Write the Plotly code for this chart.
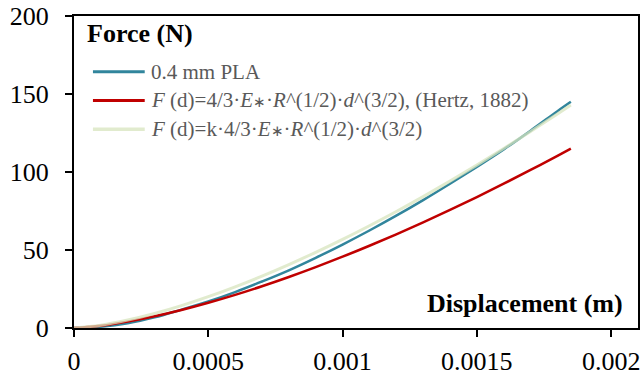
import plotly.graph_objects as go

# displacement (m)
disp = [0, 0.0001, 0.0002, 0.0003, 0.0004, 0.0005, 0.0006, 0.0007, 0.0008, 0.0009,
        0.0010, 0.0011, 0.0012, 0.0013, 0.0014, 0.0015, 0.0016, 0.0017, 0.0018, 0.00185]
# Force (N)
pla = [0, 0.8, 3.0, 6.8, 11.8, 17.0, 23.0, 29.8, 37.0, 45.0,
       53.5, 62.5, 72.0, 82.0, 92.5, 103.3, 114.5, 126.5, 139.0, 145.0]
hertz = [0, 1.45, 4.09, 7.51, 11.56, 16.16, 21.24, 26.77, 32.70, 39.02,
         45.70, 52.73, 60.08, 67.74, 75.71, 83.96, 92.50, 101.30, 110.37, 115.0]
hertz_k = [0, 1.80, 5.09, 9.34, 14.37, 20.10, 26.41, 33.29, 40.66, 48.52,
           56.83, 65.57, 74.71, 84.24, 94.15, 104.40, 115.02, 125.97, 137.24, 143.0]

STAR = '<span style="font-size:15px">∗</span>'
names = ["0.4 mm PLA",
         "<i>F</i> (d)=4/3·<i>E</i>" + STAR + "·<i>R</i>^(1/2)·<i>d</i>^(3/2), (Hertz, 1882)",
         "<i>F</i> (d)=k·4/3·<i>E</i>" + STAR + "·<i>R</i>^(1/2)·<i>d</i>^(3/2)"]
colors = ["#31859C", "#C00000", "rgba(215,228,189,0.75)"]
widths = [2.5, 2.5, 3]
series = [pla, hertz, hertz_k]

FONT = "Liberation Serif"

fig = go.Figure()
for s, n, c, w in zip(series, names, colors, widths):
    fig.add_trace(go.Scatter(x=disp, y=s, mode="lines", name=n,
                             line=dict(color=c, width=w, shape="spline"),
                             showlegend=False, hoverinfo="skip"))

# manual legend
rows_y = [0.8217, 0.7293, 0.6369]
for n, c, w, yy in zip(names, colors, widths, rows_y):
    fig.add_shape(type="line", xref="paper", yref="paper",
                  x0=0.0336, x1=0.1254, y0=yy, y1=yy,
                  line=dict(color=c, width=w + 0.5))
    fig.add_annotation(xref="paper", yref="paper", x=0.1325, y=yy,
                       xanchor="left", yanchor="middle", showarrow=False,
                       text=n, font=dict(family=FONT, size=21, color="#595959"))

fig.add_annotation(xref="paper", yref="paper", x=0.019, y=0.945,
                   xanchor="left", yanchor="middle", showarrow=False,
                   text="<b>Force (N)</b>", font=dict(family=FONT, size=26, color="black"))
fig.add_annotation(xref="paper", yref="paper", x=0.977, y=0.078,
                   xanchor="right", yanchor="middle", showarrow=False,
                   text="<b>Displacement (m)</b>", font=dict(family=FONT, size=26, color="black"))

fig.update_layout(
    width=641, height=377,
    margin=dict(l=74, r=1, t=16, b=47),
    paper_bgcolor="white", plot_bgcolor="white",
    font=dict(family=FONT, size=26, color="black"),
)
fig.update_xaxes(range=[0, 0.0021], tickvals=[0, 0.0005, 0.001, 0.0015, 0.002],
                 ticktext=["0", "0.0005", "0.001", "0.0015", "0.002"],
                 tickfont=dict(family=FONT, size=26, color="black"),
                 showgrid=False, zeroline=False, showline=True, linecolor="black",
                 linewidth=2, mirror=True, ticks="outside", ticklen=7, tickwidth=2,
                 tickcolor="black", ticklabelstandoff=2)
fig.update_yaxes(range=[0, 200], tickvals=[0, 50, 100, 150, 200],
                 tickfont=dict(family=FONT, size=26, color="black"),
                 showgrid=False, zeroline=False, showline=True, linecolor="black",
                 linewidth=2, mirror=True, ticks="outside", ticklen=7, tickwidth=2,
                 tickcolor="black", ticklabelstandoff=11)

fig.write_html("out.html", config={"displayModeBar": False},
               post_script="document.body.style.margin='0';")
